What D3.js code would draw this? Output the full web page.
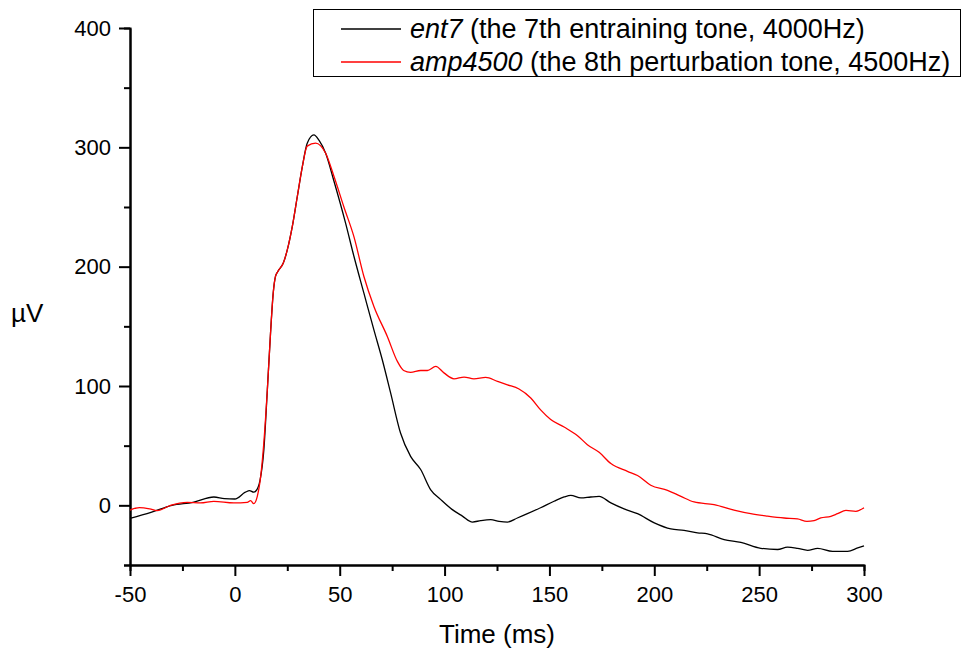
<!DOCTYPE html>
<html>
<head>
<meta charset="utf-8">
<script src="https://cdn.jsdelivr.net/npm/d3@7"></script>
<style>
  body { margin: 0; background: #fff; }
  svg { display: block; font-family: "Liberation Sans", Arial, sans-serif; }
  .axis path, .axis line { stroke: #000; stroke-width: 2px; }
  .axis text { font-size: 22px; fill: #000; }
</style>
</head>
<body>
<div id="chart"></div>
<script>
// ent7 (the 7th entraining tone, 4000Hz)
var entTime = [-50, -40, -30, -20, -10, -5, 0, 5, 7, 9, 10, 12, 13.8, 15.5, 17, 18.3, 19.4, 20.5, 23.1, 25, 27.4, 29.8, 32.2, 34.5, 37.7, 40.1, 43.3, 47.2, 52.8, 56.8, 61.5, 66.3, 70.3, 74.3, 79, 83.8, 88.6, 93.4, 98.2, 103.7, 108.5, 113.3, 117.2, 122, 126, 130, 134.7, 139.5, 145.8, 152.2, 157, 160.2, 165, 169.7, 173.7, 179.3, 185.6, 192, 200, 207.9, 214.2, 220.6, 225.4, 233.3, 241.3, 250.8, 258.8, 263.5, 268.3, 273.1, 277.9, 285, 292.2, 297, 300];
var entValues = [-11, -6, 0, 2.5, 7, 5.6, 5.3, 11, 12.3, 11, 12, 21, 46, 97, 144, 178, 192, 196, 203, 214, 233.7, 259, 284, 303.5, 310.5, 306, 295, 272, 236.5, 208.5, 178, 147, 122, 94, 60.6, 41, 30, 13, 4.8, -3.6, -9, -14, -12.8, -12, -13.4, -14, -10.6, -7, -2, 3.4, 7, 8.4, 6.2, 7, 7.5, 2, -3, -7, -14.7, -19.8, -21, -23, -24, -28.7, -31, -36, -37, -35, -36, -37.7, -36, -38.5, -38.5, -35.7, -34];

// amp4500 (the 8th perturbation tone, 4500Hz)
var ampTime = [-50, -45.5, -40.6, -37, -30.7, -22.7, -16.4, -10, -0.5, 5.9, 7.5, 9, 10.7, 12.3, 13.8, 15.5, 17, 18.3, 19.4, 20.5, 23.1, 25, 27.4, 29.8, 32.2, 34.5, 38.5, 43.3, 47.2, 52, 56.8, 61.5, 66.3, 72.7, 77.5, 80.5, 83.8, 88.6, 91.8, 95.8, 99.7, 104.5, 109.3, 114, 119.6, 125.2, 130, 135.5, 141.1, 145.8, 150.6, 157, 163.4, 168.1, 173.7, 179.3, 187.2, 192, 198.3, 206.3, 212.7, 219, 228.5, 238, 246, 254, 261.9, 268.3, 272.8, 276.2, 279.4, 284.2, 287.4, 291.4, 296.1, 300];
var ampValues = [-4, -2, -3, -4.4, 0, 2.5, 2, 3.4, 2, 2.5, 4, 1.4, 7.5, 24, 52, 97, 144, 178, 192, 196, 203, 214, 233.7, 259, 284, 301, 303.5, 295, 276, 250, 225, 192, 166.7, 141.5, 120.6, 113, 111.4, 113, 113, 116.4, 111, 106, 107.5, 106, 107.2, 103.9, 101, 97.5, 90, 80, 72, 65.6, 58.4, 50.8, 44.4, 35, 28.5, 25, 16.8, 12.6, 7.5, 2.8, 0.6, -4, -7, -9, -10.6, -11.4, -13.4, -12.8, -10.6, -9.2, -7, -4.2, -5, -2];

var xMajor = [-50, 0, 50, 100, 150, 200, 250, 300];
var xMinor = [-25, 25, 75, 125, 175, 225, 275];
var yMajor = [0, 100, 200, 300, 400];
var yMinor = [-50, 50, 150, 250, 350];

var width = 965, height = 652;
var margin = {top: 28, right: 101, bottom: 87, left: 130};

var svg = d3.select("#chart").append("svg")
  .attr("width", width)
  .attr("height", height);

var x = d3.scaleLinear().domain([-50, 300]).range([margin.left, width - margin.right]);
var y = d3.scaleLinear().domain([-50, 400]).range([height - margin.bottom, margin.top]);

// plain hyphen for negatives, like the original
var fmt = function(d) { return String(d); };

// minor ticks first, then the major axis on top
svg.append("g")
  .attr("class", "axis")
  .attr("transform", "translate(0," + (height - margin.bottom) + ")")
  .call(d3.axisBottom(x).tickValues(xMinor).tickSize(6).tickFormat(""));
svg.append("g")
  .attr("class", "axis")
  .attr("transform", "translate(0," + (height - margin.bottom) + ")")
  .call(d3.axisBottom(x).tickValues(xMajor).tickSize(11).tickSizeOuter(0).tickPadding(10).tickFormat(fmt));

svg.append("g")
  .attr("class", "axis")
  .attr("transform", "translate(" + margin.left + ",0)")
  .call(d3.axisLeft(y).tickValues(yMinor).tickSize(6).tickFormat(""));
svg.append("g")
  .attr("class", "axis")
  .attr("transform", "translate(" + margin.left + ",0)")
  .call(d3.axisLeft(y).tickValues(yMajor).tickSize(11).tickSizeOuter(0).tickPadding(8).tickFormat(fmt));

// axis titles
svg.append("text")
  .attr("x", (x(-50) + x(300)) / 2)
  .attr("y", 643)
  .attr("text-anchor", "middle")
  .style("font-size", "26px")
  .text("Time (ms)");
svg.append("text")
  .attr("x", 11)
  .attr("y", 322)
  .style("font-size", "26px")
  .text("µV");

// curves
var line = d3.line()
  .x(function(d) { return x(d[0]); })
  .y(function(d) { return y(d[1]); })
  .curve(d3.curveMonotoneX);

var series = [
  {name: "ent7", rest: " (the 7th entraining tone, 4000Hz)", color: "#000000",
   points: d3.zip(entTime, entValues)},
  {name: "amp4500", rest: " (the 8th perturbation tone, 4500Hz)", color: "#ff0000",
   points: d3.zip(ampTime, ampValues)}
];

svg.append("g").selectAll("path")
  .data(series).enter()
  .append("path")
  .attr("fill", "none")
  .attr("stroke", function(d) { return d.color; })
  .attr("stroke-width", 1.3)
  .attr("d", function(d) { return line(d.points); });

// legend
var legend = svg.append("g");
legend.append("rect")
  .attr("x", 313.5).attr("y", 9.5)
  .attr("width", 647).attr("height", 67)
  .attr("fill", "#fff")
  .attr("stroke", "#000")
  .attr("stroke-width", 1);

var rows = legend.selectAll(".row")
  .data(series).enter()
  .append("g")
  .attr("transform", function(d, i) { return "translate(0," + (29 + i * 33) + ")"; });
rows.append("line")
  .attr("x1", 341).attr("x2", 401)
  .attr("stroke", function(d) { return d.color; })
  .attr("stroke-width", 1.3);
var label = rows.append("text")
  .attr("x", 410)
  .attr("y", 9)
  .style("font-size", "27px");
label.append("tspan").style("font-style", "italic").text(function(d) { return d.name; });
label.append("tspan").text(function(d) { return d.rest; });
</script>
</body>
</html>
